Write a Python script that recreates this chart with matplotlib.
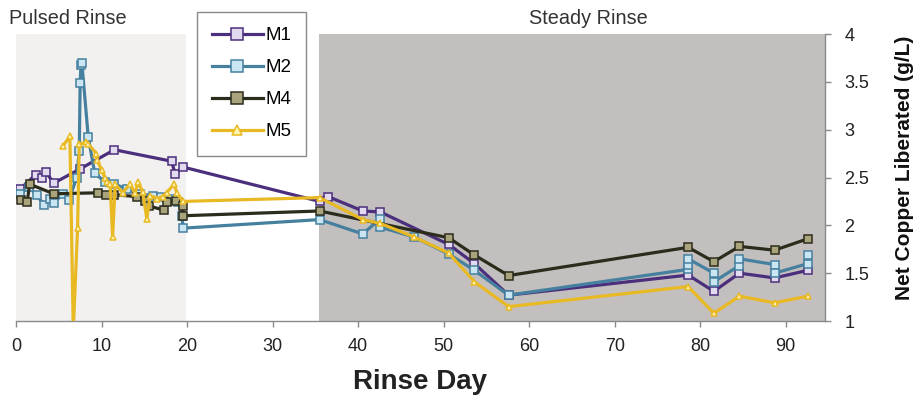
import matplotlib
matplotlib.use("Agg")
import matplotlib.pyplot as plt

plt.rcParams['font.family'] = ['Liberation Sans', 'DejaVu Sans']

# Rinse day / net copper liberated (g/L) for each column
m1_day = [0.5, 2.3, 3.0, 3.5, 4.4, 7.5, 11.5, 18.2, 18.6, 19.5,
          35.5, 36.5, 40.55, 42.6, 50.6, 53.6, 57.6,
          78.6, 81.6, 84.6, 88.7, 92.6]
m1_cu = [2.38, 2.53, 2.50, 2.56, 2.44, 2.59, 2.79, 2.67, 2.54, 2.61,
         2.25, 2.30, 2.15, 2.14, 1.80, 1.60, 1.27,
         1.48, 1.31, 1.50, 1.45, 1.53]

m2_day = [0.5, 1.5, 2.4, 3.3, 4.0, 4.4, 5.5, 6.2, 7.1, 7.4, 7.5, 7.6, 7.7,
          8.45, 9.2, 10.4, 11.5, 13.0, 14.5, 16.0, 17.0, 18.2, 19.0, 19.45, 19.5,
          35.5, 40.55, 42.6, 42.6, 46.5, 50.6, 53.6, 57.6,
          78.6, 78.6, 78.6, 81.6, 81.6, 84.6, 84.6, 88.7, 88.7, 92.6, 92.6]
m2_cu = [2.33, 2.40, 2.32, 2.21, 2.28, 2.23, 2.33, 2.27, 2.50, 2.78, 3.49, 3.68, 3.70,
         2.92, 2.55, 2.45, 2.43, 2.38, 2.33, 2.31, 2.30, 2.28, 2.24, 2.10, 1.97,
         2.06, 1.91, 2.07, 1.98, 1.88, 1.70, 1.53, 1.27,
         1.54, 1.59, 1.65, 1.50, 1.41, 1.58, 1.65, 1.59, 1.50, 1.60, 1.69]

m4_day = [0.6, 1.3, 1.6, 4.4, 9.6, 10.5, 11.5, 14.2, 15.1, 15.6, 17.3, 17.7,
          18.7, 19.5, 19.5, 35.5, 50.6, 53.6, 57.6,
          78.6, 81.6, 84.6, 88.7, 92.6]
m4_cu = [2.27, 2.24, 2.43, 2.33, 2.34, 2.32, 2.32, 2.30, 2.25, 2.20, 2.16, 2.24,
         2.25, 2.20, 2.10, 2.15, 1.87, 1.69, 1.475,
         1.77, 1.62, 1.78, 1.74, 1.86]

m5_day = [5.5, 6.3, 6.7, 7.2, 7.4, 8.15, 8.45, 9.4, 9.5, 10.0, 10.4, 10.6, 11.0,
          11.3, 11.6, 12.5, 13.3, 13.9, 14.3, 14.8, 15.3, 15.7, 16.5, 17.2, 17.6,
          18.5, 18.8, 19.5, 35.5, 40.55, 42.6, 46.5, 50.6, 53.6, 57.6,
          78.6, 81.6, 84.6, 88.7, 92.6]
m5_cu = [2.83, 2.93, 0.90, 1.97, 2.85, 2.87, 2.85, 2.75, 2.68, 2.58, 2.50, 2.45, 2.43,
         1.88, 2.43, 2.34, 2.43, 2.34, 2.45, 2.35, 2.07, 2.31, 2.28, 2.30, 2.34,
         2.43, 2.34, 2.25, 2.29, 2.06, 2.02, 1.88, 1.71, 1.41, 1.15,
         1.36, 1.08, 1.26, 1.19, 1.26]

phase_names = ["Pulsed Rinse", "Steady Rinse"]
pulsed_span = (0, 19.9)
steady_span = (35.4, 94.6)

fig = plt.figure(figsize=(9.2, 4.07), dpi=100)
ax = fig.add_axes([16 / 920, 1 - 321 / 407, (825 - 16) / 920, (321 - 34) / 407])

ax.axvspan(*pulsed_span, color="#f2f1f0", zorder=0, lw=0)
ax.axvspan(*steady_span, color="#c3bfbe", zorder=0, lw=0)

series = [
    ("M1", m1_day, m1_cu, "#4b2f7d", "#e2dbef", "s", 6),
    ("M2", m2_day, m2_cu, "#46809f", "#c9e6f2", "s", 6),
    ("M4", m4_day, m4_cu, "#2c2c1c", "#a9a47c", "s", 6),
    ("M5", m5_day, m5_cu, "#e8b923", "#fff4b0", "^", 5),
]
for name, d, v, lc, fc, mk, ms in series:
    ax.plot(d, v, color=lc, lw=2.3, marker=mk, ms=ms, mfc=fc, mec=lc,
            mew=1.1, label=name, zorder=3)

ax.set_xlim(0, 94.6)
ax.set_ylim(1, 4)
ax.set_xticks(range(0, 100, 10))
ax.set_yticks([1, 1.5, 2, 2.5, 3, 3.5, 4])
ax.set_yticklabels(["1", "1.5", "2", "2.5", "3", "3.5", "4"])

ax.yaxis.tick_right()
for s in ("top", "left"):
    ax.spines[s].set_visible(False)
for s in ("bottom", "right"):
    ax.spines[s].set_color("#8a8a8a")
    ax.spines[s].set_linewidth(1.0)
ax.tick_params(axis="both", colors="#8a8a8a", labelcolor="#222222",
               labelsize=13, length=4, width=1.0, direction="out")
ax.tick_params(axis="x", pad=8)
ax.tick_params(axis="y", pad=10)

ax.set_xlabel("Rinse Day", fontsize=20, fontweight="bold", color="#222222",
              labelpad=10)
fig.text(905 / 920, 1 - 168 / 407, "Net Copper Liberated (g/L)", fontsize=15,
         fontweight="bold", color="#111111", rotation=90,
         ha="center", va="center")

fig.text(68 / 920, 1 - 18 / 407, phase_names[0], fontsize=14.3, color="#333333",
         ha="center", va="center")
fig.text(588 / 920, 1 - 18 / 407, phase_names[1], fontsize=14.3, color="#333333",
         ha="center", va="center")

leg = ax.legend(loc="upper left", bbox_to_anchor=(197 / 920, 1 - 12 / 407),
                bbox_transform=fig.transFigure, fontsize=13.5, frameon=True,
                fancybox=False, edgecolor="#8a8a8a", facecolor="white",
                framealpha=1, handlelength=2.7, handletextpad=0.15,
                markerscale=1.5, labelspacing=0.8, borderpad=0.8,
                borderaxespad=0)
leg.get_frame().set_linewidth(1.0)
leg.set_zorder(10)

fig.savefig("out.png", dpi=100)
